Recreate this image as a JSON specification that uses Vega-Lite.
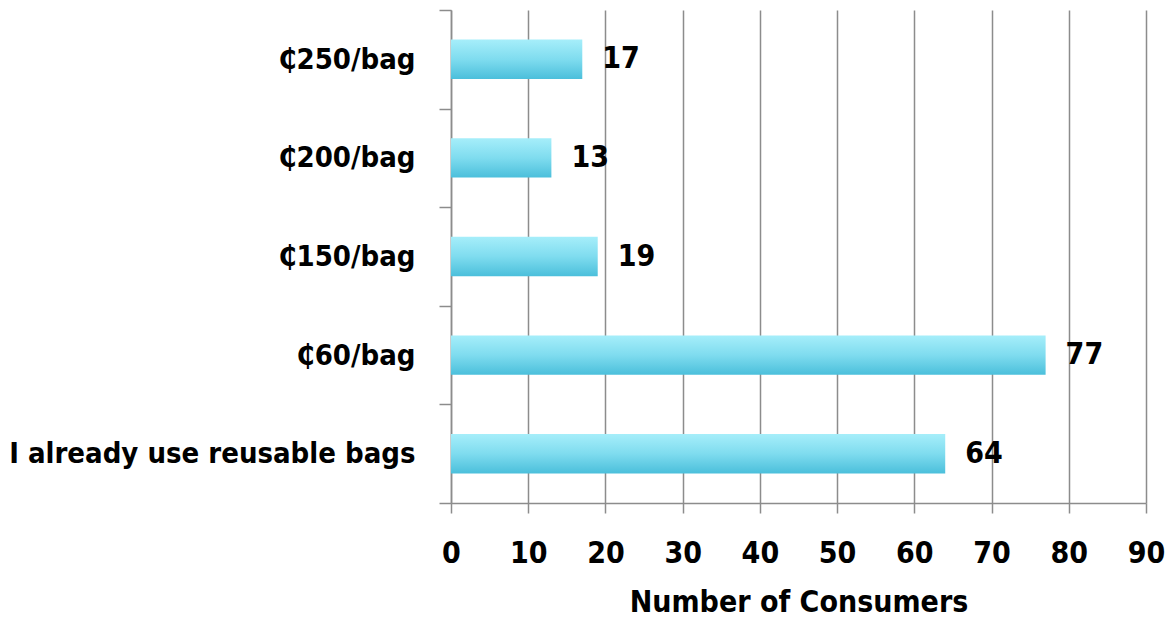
{
  "$schema": "https://vega.github.io/schema/vega-lite/v6.json",
  "autosize": "none",
  "width": 695,
  "height": 493,
  "padding": {"left": 451, "top": 10, "right": 30, "bottom": 132},
  "background": "white",
  "config": {
    "view": {"stroke": null},
    "font": "DejaVu Sans Condensed, sans-serif"
  },
  "data": {
    "values": [
      {"option": "₵250/bag", "consumers": 17},
      {"option": "₵200/bag", "consumers": 13},
      {"option": "₵150/bag", "consumers": 19},
      {"option": "₵60/bag", "consumers": 77},
      {"option": "I already use reusable bags", "consumers": 64}
    ]
  },
  "encoding": {
    "y": {
      "field": "option",
      "type": "nominal",
      "sort": null,
      "scale": {"paddingInner": 0, "paddingOuter": 0},
      "axis": {
        "title": null,
        "domainColor": "#8c8c8c",
        "domainWidth": 1.5,
        "tickColor": "#8c8c8c",
        "tickWidth": 1.5,
        "tickSize": 12,
        "tickBand": "extent",
        "labelPadding": 24,
        "labelFontSize": 29,
        "labelFontWeight": "bold",
        "labelColor": "black",
        "labelFont": "DejaVu Sans Condensed, sans-serif",
        "labelLimit": 600
      }
    },
    "x": {
      "field": "consumers",
      "type": "quantitative",
      "scale": {"domain": [0, 90], "nice": false},
      "axis": {
        "title": "Number of Consumers",
        "values": [0, 10, 20, 30, 40, 50, 60, 70, 80, 90],
        "grid": true,
        "gridColor": "#8c8c8c",
        "gridWidth": 1.5,
        "domainColor": "#8c8c8c",
        "domainWidth": 1.5,
        "tickColor": "#8c8c8c",
        "tickWidth": 1.5,
        "tickSize": 10,
        "labelFlush": false,
        "labelPadding": 25,
        "labelFontSize": 30,
        "labelFontWeight": "bold",
        "labelColor": "black",
        "labelFont": "DejaVu Sans Condensed, sans-serif",
        "titleFontSize": 30,
        "titleFontWeight": "bold",
        "titleColor": "black",
        "titleFont": "DejaVu Sans Condensed, sans-serif",
        "titlePadding": 19
      }
    }
  },
  "layer": [
    {
      "mark": {
        "type": "bar",
        "height": {"band": 0.4},
        "color": {
          "gradient": "linear",
          "x1": 0, "y1": 0, "x2": 0, "y2": 1,
          "stops": [
            {"offset": 0, "color": "#a6eefa"},
            {"offset": 0.5, "color": "#7fdcef"},
            {"offset": 1, "color": "#4bbfdb"}
          ]
        }
      }
    },
    {
      "mark": {
        "type": "text",
        "align": "left",
        "baseline": "middle",
        "dx": 20,
        "fontSize": 30,
        "fontWeight": "bold",
        "color": "black",
        "font": "DejaVu Sans Condensed, sans-serif"
      },
      "encoding": {
        "text": {"field": "consumers", "type": "quantitative"}
      }
    }
  ]
}
